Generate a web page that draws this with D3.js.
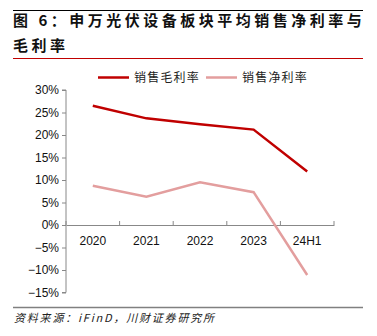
<!DOCTYPE html>
<html><head><meta charset="utf-8">
<script src="https://cdn.jsdelivr.net/npm/d3@7"></script>
<style>
html,body{margin:0;padding:0;background:#fff;}
svg{display:block;}
</style></head>
<body>
<svg id="c" width="377" height="336"></svg>
<script>
const categories = ["2020","2021","2022","2023","24H1"];
const grossMargin = [26.5, 23.7, 22.4, 21.2, 11.9];
const netMargin = [8.7, 6.3, 9.5, 7.3, -11.1];
const yTicks = [30,25,20,15,10,5,0,-5,-10,-15];
const seriesNames = ["销售毛利率","销售净利率"];
const colors = ["#C00000","#E39E9E"];

const svg = d3.select("#c");
const font = "'Noto Sans CJK SC', sans-serif";

// Title
svg.append("line").attr("x1",13).attr("x2",363).attr("y1",10.5).attr("y2",10.5).attr("stroke","#000").attr("stroke-width",1);
svg.append("text").attr("x",13).attr("y",26).attr("font-family",font).attr("font-weight","bold").attr("font-size",15).attr("letter-spacing",3.5).attr("fill","#111").text("图 6：申万光伏设备板块平均销售净利率与");
svg.append("text").attr("x",13).attr("y",51).attr("font-family",font).attr("font-weight","bold").attr("font-size",15).attr("letter-spacing",3.5).attr("fill","#111").text("毛利率");
svg.append("line").attr("x1",13).attr("x2",363).attr("y1",58.5).attr("y2",58.5).attr("stroke","#C00000").attr("stroke-width",1);

const x = d3.scaleBand().domain(categories).range([66,334]).padding(0);
const y = d3.scaleLinear().domain([-15,30]).range([292.5,90]);

// Y axis
const yAxis = d3.axisLeft(y).tickValues(yTicks).tickSize(4).tickFormat(d => (d<0?"\u2212":"")+Math.abs(d)+"%");
const gy = svg.append("g").attr("transform","translate(66,0)").call(yAxis);
gy.select(".domain").attr("stroke","#888").attr("d","M-4,"+y(30)+"H0V"+y(-15)+"H-4");
gy.selectAll(".tick line").attr("stroke","#888");
gy.selectAll(".tick text").attr("font-family","Arial, 'Liberation Sans', sans-serif").attr("font-size",12).attr("fill","#111").attr("x",-7);

// X axis at 0
const xAxis = d3.axisBottom(x).tickSize(0).tickFormat(d=>d);
const gx = svg.append("g").attr("transform","translate(0,"+y(0)+")").call(xAxis);
gx.select(".domain").attr("stroke","#888");
gx.selectAll(".tick text").attr("font-family","Arial, 'Liberation Sans', sans-serif").attr("font-size",12).attr("fill","#111").attr("dy","0").attr("y",20);
// category boundary ticks
const bounds = categories.map(c=>x(c)).concat([x.range()[1]]);
gx.selectAll(".bt").data(bounds).enter().append("line").attr("x1",d=>d).attr("x2",d=>d).attr("y1",0).attr("y2",-4).attr("stroke","#888");

// Lines
const line = d3.line().x((d,i)=>x(categories[i])+x.bandwidth()/2).y(d=>y(d));
[grossMargin, netMargin].forEach((s,k)=>{
  svg.append("path").attr("d",line(s)).attr("fill","none").attr("stroke",colors[k]).attr("stroke-width",2.5);
});

// Legend
const leg = [[98,129,134],[206,237,242]];
seriesNames.forEach((n,k)=>{
  svg.append("line").attr("x1",leg[k][0]).attr("x2",leg[k][1]).attr("y1",77.5).attr("y2",77.5).attr("stroke",colors[k]).attr("stroke-width",2.5);
  svg.append("text").attr("x",leg[k][2]).attr("y",82).attr("font-family",font).attr("font-size",12).attr("letter-spacing",1.2).attr("fill","#222").text(n);
});

// Source
svg.append("line").attr("x1",13).attr("x2",363).attr("y1",307.5).attr("y2",307.5).attr("stroke","#808080").attr("stroke-width",1.5);
svg.append("text").attr("x",14).attr("y",322).attr("font-family",font).attr("font-style","italic").attr("font-size",11).attr("letter-spacing",1.8).attr("fill","#222").text("资料来源：iFinD，川财证券研究所");
</script>
</body></html>
